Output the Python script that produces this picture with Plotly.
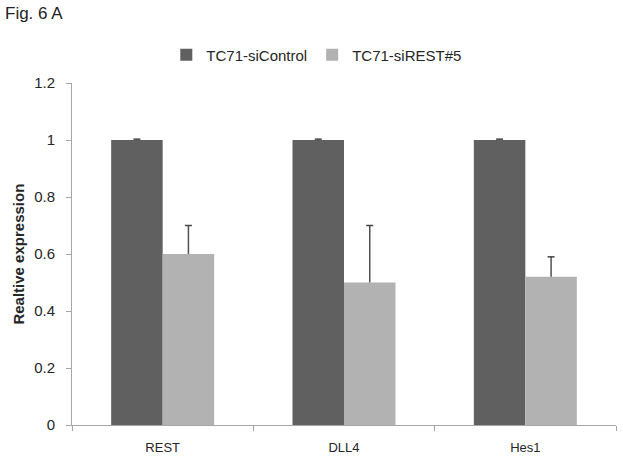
import plotly.graph_objects as go

# Data
genes = ["REST", "DLL4", "Hes1"]
control_vals = [1.0, 1.0, 1.0]
control_err = [0.003, 0.003, 0.003]
sirest_vals = [0.60, 0.50, 0.52]
sirest_err = [0.10, 0.20, 0.07]
y_ticks = [0, 0.2, 0.4, 0.6, 0.8, 1, 1.2]
y_ticklabels = ["0", "0.2", "0.4", "0.6", "0.8", "1", "1.2"]

FONT = "Liberation Sans"
series = [
    ("TC71-siControl", control_vals, control_err, "#606060"),
    ("TC71-siREST#5", sirest_vals, sirest_err, "#b2b2b2"),
]

fig = go.Figure()
for i, (name, vals, err, col) in enumerate(series):
    fig.add_trace(go.Bar(name=name, x=genes, y=vals, offsetgroup=str(i),
                         marker=dict(color=col, line=dict(width=0))))
# plus-only error bars (Excel style): cap on top, no cap at the bar
for i, (name, vals, err, col) in enumerate(series):
    tops = [v + e for v, e in zip(vals, err)]
    fig.add_trace(go.Scatter(x=genes, y=tops, mode="markers", offsetgroup=str(i),
                             showlegend=False, hoverinfo="skip",
                             marker=dict(symbol="line-ew", size=5, color="#454545",
                                         line=dict(width=1.5, color="#454545")),
                             error_y=dict(type="data", symmetric=False, array=[0, 0, 0],
                                          arrayminus=err, color="#505050",
                                          thickness=1.5, width=0)))

fig.update_layout(
    width=623, height=460,
    barmode="group", bargap=0.432, bargroupgap=0, scattermode="group",
    plot_bgcolor="white", paper_bgcolor="white",
    margin=dict(l=72, r=7, t=83, b=35),
    font=dict(family=FONT, size=14, color="#262626"),
    legend=dict(orientation="h", x=0.45, xanchor="center", y=1.082,
                yanchor="middle", font=dict(size=15), itemwidth=30,
                traceorder="normal"),
    xaxis=dict(showline=True, linecolor="#a6a6a6", linewidth=1,
               ticks="outside", tickson="boundaries", ticklen=5,
               tickcolor="#a6a6a6", tickfont=dict(size=13),
               ticklabelstandoff=10, automargin=False),
    yaxis=dict(range=[0, 1.2], tickvals=y_ticks, ticktext=y_ticklabels,
               showline=True, linecolor="#a6a6a6", linewidth=1,
               ticks="outside", ticklen=5, tickcolor="#a6a6a6",
               ticklabelstandoff=8, automargin=False,
               showgrid=False, zeroline=False, tickfont=dict(size=15)),
)

# y-axis title as a rotated annotation so it can sit close to the tick labels
fig.add_annotation(text="<b>Realtive expression</b>", xref="paper", yref="paper",
                   x=-0.1, y=0.5, xanchor="center", yanchor="middle",
                   textangle=-90, showarrow=False, font=dict(size=15))

fig.add_annotation(text="Fig. 6 A", xref="paper", yref="paper",
                   x=-0.127, y=1.202, xanchor="left", yanchor="middle",
                   showarrow=False, font=dict(size=17, family=FONT, color="#222222"))

# drop the default 8px body margin so the figure sits at the window origin
fig.write_html("out.html", config={"displayModeBar": False},
               post_script="document.body.style.margin='0';")
